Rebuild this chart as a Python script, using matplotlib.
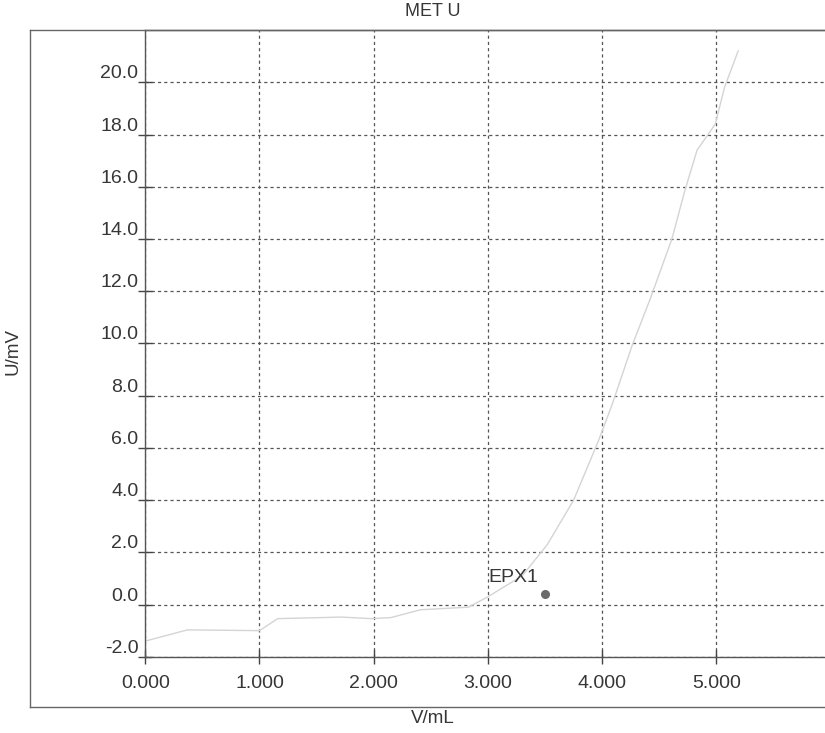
import matplotlib
matplotlib.use('Agg')
import matplotlib.pyplot as plt
from matplotlib.lines import Line2D

plt.rcParams['font.family'] = ['Liberation Sans', 'DejaVu Sans']

vol = [0.0, 0.37, 1.0, 1.16, 1.72, 1.98, 2.15, 2.41, 2.83, 3.0, 3.3, 3.52,
       3.75, 3.97, 4.09, 4.26, 4.42, 4.61, 4.72, 4.83, 4.99, 5.07, 5.19]
volt = [-1.4, -0.97, -1.0, -0.54, -0.48, -0.54, -0.5, -0.2, -0.1, 0.3, 1.1, 2.3,
        4.0, 6.3, 7.7, 9.9, 11.7, 14.0, 15.8, 17.4, 18.4, 19.8, 21.2]
ep_label = 'EPX1'
ep_vol = 3.5
ep_volt = 0.4
xticks = [0, 1, 2, 3, 4, 5]
yticks = [-2, 0, 2, 4, 6, 8, 10, 12, 14, 16, 18, 20]

txt = '#363636'
gridc = '#555555'

fig = plt.figure(figsize=(8.25, 7.33), dpi=100)
ax = fig.add_axes([0.176, 0.104, 0.824, 0.855])

ax.plot(vol, volt, color='#d4d4d4', lw=1.0)
ax.plot([ep_vol], [ep_volt], 'o', color='#6a6a6a', ms=5.5)
ax.text(3.0, 0.72, ep_label, fontsize=14, color=txt, ha='left', va='bottom')

ax.set_xlim(0, 5.95)
ax.set_ylim(-2.0, 22.0)
ax.set_xticks(xticks)
ax.set_xticklabels(['%.3f' % v for v in xticks])
ax.set_yticks(yticks)
ax.set_yticklabels(['%.1f' % v for v in yticks])
for lab in ax.get_yticklabels():
    lab.set_va('bottom')

ax.grid(True, color=gridc, linestyle=(0, (2.5, 2.5)), lw=0.9)
ax.tick_params(axis='both', direction='inout', length=10, width=1,
               color='#444444', labelcolor=txt, labelsize=14)
ax.tick_params(axis='y', pad=0)
ax.tick_params(axis='x', pad=8)
ax.spines['right'].set_visible(False)
for s in ['left', 'bottom', 'top']:
    ax.spines[s].set_color('#555555')
    ax.spines[s].set_linewidth(1.0)
    ax.spines[s].set_zorder(3)

# Rahmen um das Diagramm
fc = '#666666'
fig.add_artist(Line2D([0.036, 0.036], [0.035, 0.959], color=fc, lw=1.0))
fig.add_artist(Line2D([0.036, 1.0], [0.959, 0.959], color=fc, lw=1.0))
fig.add_artist(Line2D([0.036, 1.0], [0.035, 0.035], color=fc, lw=1.0))

fig.text(0.524, 0.984, 'MET U', fontsize=13, color=txt, ha='center', va='center')
fig.text(0.524, 0.020, 'V/mL', fontsize=13.5, color=txt, ha='center', va='center')
fig.text(0.016, 0.52, 'U/mV', fontsize=13.5, color=txt, ha='center', va='center',
         rotation=90)

fig.savefig('out.png', dpi=100, facecolor='white')
